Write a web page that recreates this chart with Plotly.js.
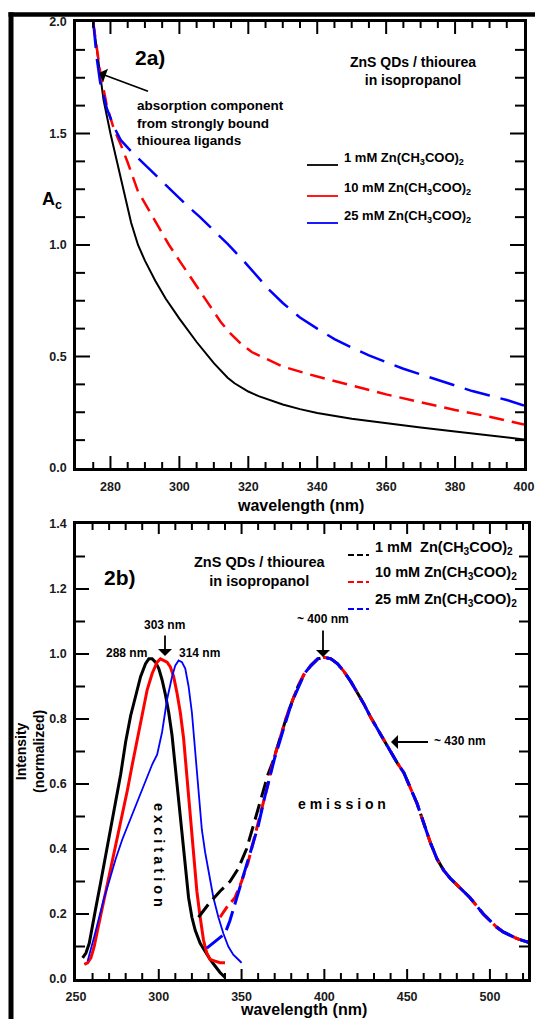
<!DOCTYPE html>
<html>
<head>
<meta charset="utf-8">
<script src="https://cdn.plot.ly/plotly-3.0.1.min.js"></script>
<style>
  html, body { margin: 0; padding: 0; background: #fff; overflow: hidden; }
  #chart { position: absolute; left: 0; top: 0; width: 535px; height: 1019px; }
  #overlay { position: absolute; left: 0; top: 0; pointer-events: none; }
</style>
</head>
<body>
<div id="chart"></div>
<svg id="overlay" width="535" height="1019" xmlns="http://www.w3.org/2000/svg"></svg>
<script>
// ---------- Panel 2a: absorbance A_c vs wavelength ----------
const absWl1 = [275, 276, 277, 278, 280, 282, 284, 286, 288, 290, 293, 296, 300, 305, 310, 312, 314, 316, 318, 320, 323, 326, 330, 335, 340, 350, 360, 370, 380, 390, 400];
const absA1  = [2.0, 1.88, 1.78, 1.65, 1.50, 1.37, 1.23, 1.10, 1.00, 0.93, 0.84, 0.76, 0.67, 0.565, 0.47, 0.435, 0.405, 0.38, 0.36, 0.343, 0.322, 0.305, 0.285, 0.264, 0.247, 0.221, 0.20, 0.182, 0.164, 0.146, 0.128];

const absWl10 = [275, 277, 279, 281, 283, 285, 288, 291, 294, 297, 300, 303, 306, 309, 312, 315, 318, 321, 325, 330, 335, 340, 350, 360, 370, 380, 390, 400];
const absA10  = [2.0, 1.78, 1.62, 1.52, 1.45, 1.37, 1.24, 1.16, 1.08, 1.0, 0.93, 0.86, 0.79, 0.72, 0.655, 0.60, 0.555, 0.52, 0.49, 0.455, 0.432, 0.41, 0.37, 0.33, 0.295, 0.26, 0.23, 0.195];

const absWl25 = [275, 276, 277, 279, 281, 283, 286, 290, 294, 298, 302, 306, 310, 314, 318, 322, 326, 330, 335, 340, 345, 350, 355, 360, 365, 370, 375, 380, 385, 390, 395, 400];
const absA25  = [2.0, 1.84, 1.73, 1.61, 1.53, 1.47, 1.42, 1.36, 1.30, 1.24, 1.18, 1.125, 1.065, 1.005, 0.94, 0.87, 0.80, 0.74, 0.675, 0.625, 0.578, 0.54, 0.505, 0.475, 0.445, 0.42, 0.395, 0.37, 0.345, 0.325, 0.305, 0.28];

// ---------- Panel 2b: excitation spectra ----------
const excWl1 = [254, 256, 258, 260, 262, 265, 268, 271, 274, 277, 280, 283, 286, 289, 292, 294, 296, 298, 300, 302, 304, 306, 308, 310, 312, 314, 316, 318, 320, 322, 325, 328, 331, 334, 337, 340];
const excI1  = [0.065, 0.08, 0.11, 0.16, 0.22, 0.30, 0.38, 0.46, 0.54, 0.63, 0.73, 0.81, 0.87, 0.93, 0.97, 0.985, 0.985, 0.975, 0.955, 0.92, 0.875, 0.82, 0.75, 0.65, 0.54, 0.43, 0.33, 0.25, 0.19, 0.15, 0.11, 0.085, 0.06, 0.04, 0.02, 0.005];

const excWl10 = [255, 257, 259, 261, 263, 266, 269, 272, 275, 278, 281, 284, 287, 290, 293, 296, 299, 301, 303, 305, 307, 309, 311, 313, 315, 317, 319, 321, 323, 325, 327, 329, 331, 334, 337, 340];
const excI10  = [0.045, 0.05, 0.065, 0.10, 0.15, 0.22, 0.29, 0.36, 0.43, 0.51, 0.58, 0.66, 0.74, 0.82, 0.89, 0.94, 0.975, 0.985, 0.98, 0.975, 0.96, 0.93, 0.88, 0.82, 0.74, 0.62, 0.50, 0.38, 0.27, 0.19, 0.12, 0.08, 0.06, 0.055, 0.05, 0.05];

const excWl25 = [257, 259, 261, 264, 267, 270, 274, 278, 282, 286, 290, 293, 296, 299, 302, 305, 308, 310, 312, 314, 316, 318, 320, 322, 324, 326, 328, 330, 333, 336, 339, 342, 345, 348, 350];
const excI25  = [0.055, 0.09, 0.13, 0.19, 0.25, 0.30, 0.37, 0.43, 0.48, 0.53, 0.58, 0.62, 0.66, 0.69, 0.76, 0.86, 0.93, 0.965, 0.98, 0.975, 0.955, 0.90, 0.82, 0.70, 0.57, 0.46, 0.39, 0.33, 0.25, 0.19, 0.14, 0.10, 0.075, 0.06, 0.05];

// ---------- Panel 2b: emission spectra ----------
const emWl1 = [324, 330, 337, 343, 348, 353, 357, 362, 366, 369, 372, 375, 378, 381, 384, 388, 392, 396, 400, 404, 408, 412, 416, 420, 424, 428, 432, 436, 440, 444, 448, 452, 456, 460, 464, 468, 472, 476, 480, 484, 488, 492, 496, 500, 504, 508, 512, 516, 520, 524];
const emI1  = [0.19, 0.23, 0.27, 0.30, 0.34, 0.40, 0.47, 0.56, 0.63, 0.67, 0.72, 0.77, 0.82, 0.86, 0.90, 0.94, 0.965, 0.985, 0.99, 0.985, 0.97, 0.945, 0.915, 0.88, 0.845, 0.805, 0.77, 0.735, 0.70, 0.665, 0.635, 0.59, 0.54, 0.48, 0.42, 0.37, 0.335, 0.31, 0.29, 0.27, 0.25, 0.225, 0.20, 0.18, 0.16, 0.145, 0.135, 0.125, 0.118, 0.112];

const emWl10 = [337, 341, 346, 350, 354, 358, 362, 366, 369, 372, 375, 378, 381, 384, 388, 392, 396, 400, 404, 408, 412, 416, 420, 424, 428, 432, 436, 440, 444, 448, 452, 456, 460, 464, 468, 472, 476, 480, 484, 488, 492, 496, 500, 504, 508, 512, 516, 520, 524];
const emI10  = [0.19, 0.22, 0.25, 0.30, 0.36, 0.44, 0.52, 0.60, 0.67, 0.72, 0.77, 0.82, 0.86, 0.90, 0.94, 0.965, 0.985, 0.99, 0.985, 0.97, 0.945, 0.915, 0.88, 0.845, 0.805, 0.77, 0.735, 0.70, 0.665, 0.635, 0.59, 0.54, 0.48, 0.42, 0.37, 0.335, 0.31, 0.29, 0.27, 0.25, 0.225, 0.20, 0.18, 0.16, 0.145, 0.135, 0.125, 0.118, 0.112];

const emWl25 = [329, 335, 340, 343, 346, 349, 352, 356, 360, 364, 367, 370, 373, 376, 379, 382, 385, 388, 392, 396, 400, 404, 408, 412, 416, 420, 424, 428, 432, 436, 440, 444, 448, 452, 456, 460, 464, 468, 472, 476, 480, 484, 488, 492, 496, 500, 504, 508, 512, 516, 520, 524];
const emI25  = [0.095, 0.12, 0.14, 0.18, 0.23, 0.28, 0.33, 0.40, 0.47, 0.56, 0.62, 0.68, 0.73, 0.78, 0.83, 0.87, 0.905, 0.94, 0.965, 0.985, 0.99, 0.985, 0.97, 0.945, 0.915, 0.88, 0.845, 0.805, 0.77, 0.735, 0.70, 0.665, 0.635, 0.59, 0.54, 0.48, 0.42, 0.37, 0.335, 0.31, 0.29, 0.27, 0.25, 0.225, 0.20, 0.18, 0.16, 0.145, 0.135, 0.125, 0.118, 0.112];

// ---------- labels ----------
const legendLabels2a = ["1 mM Zn(CH<sub>3</sub>COO)<sub>2</sub>", "10 mM Zn(CH<sub>3</sub>COO)<sub>2</sub>", "25 mM Zn(CH<sub>3</sub>COO)<sub>2</sub>"];
const legendLabels2b = ["1 mM&nbsp;&nbsp;Zn(CH<sub>3</sub>COO)<sub>2</sub>", "10 mM Zn(CH<sub>3</sub>COO)<sub>2</sub>", "25 mM Zn(CH<sub>3</sub>COO)<sub>2</sub>"];
const seriesColors = ["#000000", "#ff0000", "#0000ff"];

// ---------- geometry helpers (pixel -> paper) ----------
const W = 535, H = 1019, ML = 76, MR = 7, MT = 22, MB = 40;
const PW = W - ML - MR, PH = H - MT - MB;
const px = x => (x - ML) / PW;
const py = y => (H - MB - y) / PH;

const FONT = "Liberation Sans, Arial, Helvetica, sans-serif";

const traces = [
  {x: absWl1, y: absA1, xaxis: 'x', yaxis: 'y', mode: 'lines', line: {color: seriesColors[0], width: 2}},
  {x: absWl10, y: absA10, xaxis: 'x', yaxis: 'y', mode: 'lines', line: {color: seriesColors[1], width: 2.5, dash: '15px,8px'}},
  {x: absWl25, y: absA25, xaxis: 'x', yaxis: 'y', mode: 'lines', line: {color: seriesColors[2], width: 2.5, dash: '26px,11px'}},
  {x: excWl1, y: excI1, xaxis: 'x2', yaxis: 'y2', mode: 'lines', line: {color: seriesColors[0], width: 3}},
  {x: excWl10, y: excI10, xaxis: 'x2', yaxis: 'y2', mode: 'lines', line: {color: seriesColors[1], width: 3}},
  {x: excWl25, y: excI25, xaxis: 'x2', yaxis: 'y2', mode: 'lines', line: {color: seriesColors[2], width: 1.8}},
  {x: emWl1, y: emI1, xaxis: 'x2', yaxis: 'y2', mode: 'lines', line: {color: seriesColors[0], width: 3, dash: '16px,7px'}},
  {x: emWl10, y: emI10, xaxis: 'x2', yaxis: 'y2', mode: 'lines', line: {color: seriesColors[1], width: 3, dash: '13px,6px'}},
  {x: emWl25, y: emI25, xaxis: 'x2', yaxis: 'y2', mode: 'lines', line: {color: seriesColors[2], width: 3, dash: '20px,7px'}}
];

// tick spacing per axis: [major, minor, majorLen, minorLen]
const tickSpec = {
  xaxis: [20, 5, 12, 6], yaxis: [0.5, 0.125, 14, 9],
  xaxis2: [50, 10, 10, 6], yaxis2: [0.2, 0.1, 13, 9]
};

const axisCommon = {
  showline: true, linecolor: '#000', linewidth: 2.5, mirror: true,
  ticks: '', showgrid: false, zeroline: false,
  tickfont: {family: FONT, size: 12.5, color: '#1a1a1a', weight: 'bold'}
};

const layout = {
  width: W, height: H,
  margin: {l: ML, r: MR, t: MT, b: MB},
  paper_bgcolor: '#fff', plot_bgcolor: '#fff',
  showlegend: false,
  font: {family: FONT, color: '#000'},
  xaxis: Object.assign({}, axisCommon, {domain: [0, 448 / PW], anchor: 'y', range: [270, 400], dtick: tickSpec.xaxis[0], ticklabelstandoff: 5}),
  yaxis: Object.assign({}, axisCommon, {domain: [py(468), 1], anchor: 'x', range: [0, 2], dtick: tickSpec.yaxis[0], tickformat: '.1f', ticklabelstandoff: 4}),
  xaxis2: Object.assign({}, axisCommon, {domain: [0, 1], anchor: 'y2', range: [250, 523], dtick: tickSpec.xaxis2[0], ticklabelstandoff: 4}),
  yaxis2: Object.assign({}, axisCommon, {domain: [0, py(524)], anchor: 'x2', range: [0, 1.4], dtick: tickSpec.yaxis2[0], tickformat: '.1f', ticklabelstandoff: 4}),
  annotations: []
};

function txt(t, x, y, opts) {
  layout.annotations.push(Object.assign({
    text: t, xref: 'paper', yref: 'paper', x: px(x), y: py(y),
    xanchor: 'center', yanchor: 'middle', showarrow: false,
    font: {family: FONT, size: 13, color: '#000', weight: 'bold'}
  }, opts || {}));
}
function arrow(tipX, tipY, tailX, tailY) {
  layout.annotations.push({
    text: ' ', xref: 'paper', yref: 'paper', x: px(tipX), y: py(tipY),
    ax: tailX - tipX, ay: tailY - tipY, showarrow: true,
    arrowhead: 1, arrowsize: 1.3, arrowwidth: 1.8, arrowcolor: '#000', standoff: 0, startstandoff: 0,
    font: {size: 2}
  });
}

// ----- panel 2a texts -----
txt('2a)', 133, 58, {xanchor: 'left', font: {family: FONT, size: 21, color: '#000', weight: 'bold'}});
txt('ZnS QDs / thiourea<br>in isopropanol', 413, 71, {font: {family: FONT, size: 14, color: '#000', weight: 'bold'}});
txt('absorption component<br>from strongly bound<br>thiourea ligands', 135, 123, {xanchor: 'left', align: 'left', font: {family: FONT, size: 13.5, color: '#000', weight: 'bold'}});
arrow(99, 73, 150, 92);
const leg2aY = [165, 196, 223];
const leg2aTY = [158, 189, 217];
for (let i = 0; i < 3; i++) {
  txt(legendLabels2a[i], 342, leg2aTY[i], {xanchor: 'left', font: {family: FONT, size: 13, color: '#000', weight: 'bold'}});
}
txt('A<sub>c</sub>', 52, 200, {font: {family: FONT, size: 18, color: '#000', weight: 'bold'}});
txt('wavelength (nm)', 300, 505, {font: {family: FONT, size: 16, color: '#000', weight: 'bold'}});

// ----- panel 2b texts -----
txt('2b)', 102, 577, {xanchor: 'left', font: {family: FONT, size: 21, color: '#000', weight: 'bold'}});
txt('ZnS QDs / thiourea<br>in isopropanol', 259, 571, {font: {family: FONT, size: 14.5, color: '#000', weight: 'bold'}});
const leg2bY = [555, 582, 609];
const leg2bTY = [548, 573, 600];
for (let i = 0; i < 3; i++) {
  txt(legendLabels2b[i], 373, leg2bTY[i], {xanchor: 'left', font: {family: FONT, size: 14.5, color: '#000', weight: 'bold'}});
}
txt('~ 400 nm', 323, 619, {font: {family: FONT, size: 12, color: '#000', weight: 'bold'}});
arrow(323, 657, 323, 628);
txt('303 nm', 164, 625, {font: {family: FONT, size: 12, color: '#000', weight: 'bold'}});
arrow(165, 656, 165, 633);
txt('288 nm', 126, 653, {font: {family: FONT, size: 12, color: '#000', weight: 'bold'}});
txt('314 nm', 199, 653, {font: {family: FONT, size: 12, color: '#000', weight: 'bold'}});
txt('~ 430 nm', 432, 741, {xanchor: 'left', font: {family: FONT, size: 12, color: '#000', weight: 'bold'}});
arrow(391, 742, 430, 742);
txt('e x c i t a t i o n', 159, 855, {textangle: 90, font: {family: FONT, size: 14.5, color: '#000', weight: 'bold'}});
txt('e m i s s i o n', 342, 804, {font: {family: FONT, size: 14, color: '#000', weight: 'bold'}});
txt('Intensity<br>(normalized)', 30, 752, {textangle: -90, font: {family: FONT, size: 14, color: '#000', weight: 'bold'}});
txt('wavelength (nm)', 303, 1010, {font: {family: FONT, size: 16, color: '#000', weight: 'bold'}});

// ---------- overlay: inside ticks, legend keys, frame ----------
const NS = 'http://www.w3.org/2000/svg';
const overlay = document.getElementById('overlay');
function seg(x1, y1, x2, y2, w, color, dash) {
  const l = document.createElementNS(NS, 'line');
  l.setAttribute('x1', x1); l.setAttribute('y1', y1); l.setAttribute('x2', x2); l.setAttribute('y2', y2);
  l.setAttribute('stroke', color || '#000'); l.setAttribute('stroke-width', w);
  if (dash) l.setAttribute('stroke-dasharray', dash);
  overlay.appendChild(l);
}
// pixel frame of a subplot from the same domains / ranges / margins given to Plotly
function frameOf(xName, yName) {
  const xa = layout[xName], ya = layout[yName];
  const L = ML + xa.domain[0] * PW, R = ML + xa.domain[1] * PW;
  const T = MT + (1 - ya.domain[1]) * PH, B = MT + (1 - ya.domain[0]) * PH;
  return {L, R, T, B, xr: xa.range, yr: ya.range};
}
function drawTicks(f, xs, ys) {
  const {L, R, T, B, xr, yr} = f;
  const xp = v => L + (v - xr[0]) / (xr[1] - xr[0]) * (R - L);
  const yp = v => B - (v - yr[0]) / (yr[1] - yr[0]) * (B - T);
  const i0 = Math.ceil(xr[0] / xs[1] - 1e-9), i1 = Math.floor(xr[1] / xs[1] + 1e-9);
  for (let i = i0; i <= i1; i++) {
    const v = i * xs[1];
    const isMaj = Math.abs(v / xs[0] - Math.round(v / xs[0])) < 1e-6;
    const p = xp(v);
    if (!(p > L + 1 && p < R - 1)) continue;
    const len = isMaj ? xs[2] : xs[3];
    seg(p, B, p, B - len, 2); seg(p, T, p, T + len, 2);
  }
  const j0 = Math.ceil(yr[0] / ys[1] - 1e-9), j1 = Math.floor(yr[1] / ys[1] + 1e-9);
  for (let j = j0; j <= j1; j++) {
    const v = j * ys[1];
    const isMaj = Math.abs(v / ys[0] - Math.round(v / ys[0])) < 1e-6;
    const p = yp(v);
    if (!(p > T + 1 && p < B - 1)) continue;
    const len = isMaj ? ys[2] : ys[3];
    seg(L, p, L + len, p, 2); seg(R, p, R - len, p, 2);
  }
}
drawTicks(frameOf('xaxis', 'yaxis'), tickSpec.xaxis, tickSpec.yaxis);
drawTicks(frameOf('xaxis2', 'yaxis2'), tickSpec.xaxis2, tickSpec.yaxis2);
for (let i = 0; i < 3; i++) {
  seg(307, leg2aY[i], 338, leg2aY[i], 1.8, seriesColors[i]);
  seg(348, leg2bY[i], 369, leg2bY[i], 2, seriesColors[i], '6,3');
}
seg(8.5, 14.5, 535, 14.5, 4.5);
seg(11, 12.3, 11, 1019, 5);

Plotly.newPlot('chart', traces, layout, {displayModeBar: false});
</script>
</body>
</html>
